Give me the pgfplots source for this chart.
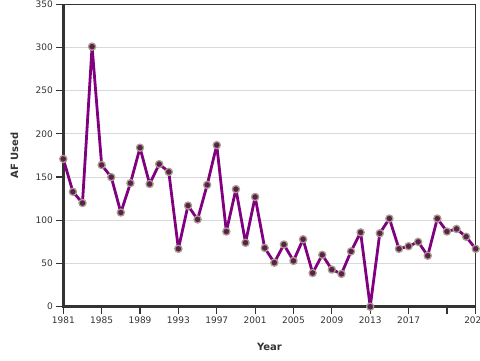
\documentclass[border=0pt]{standalone}
\usepackage{fontspec}
\setmainfont{DejaVu Sans}
\usepackage{pgfplots}
\pgfplotsset{compat=1.18}
\definecolor{txt}{HTML}{333333}
\definecolor{ln}{HTML}{800080}
\definecolor{mk}{HTML}{5C1F50}
\definecolor{mkedge}{HTML}{A89F88}
\definecolor{grd}{HTML}{D9D9D9}
\begin{document}
\begin{tikzpicture}
\begin{axis}[
  scale only axis,
  width=412.4pt, height=302.4pt,
  xmin=1981, xmax=2024, ymin=0, ymax=350,
  xtick={1981,1985,1989,1993,1997,2001,2005,2009,2013,2017,2021,2024},
  xticklabels={1981,1985,1989,1993,1997,2001,2005,2009,2013,2017,,2024},
  ytick={0,50,...,350},
  /pgf/number format/assume math mode=true,
  /pgf/number format/1000 sep={},
  tick label style={font=\fontsize{9}{10}\selectfont, text=txt},
  tick align=outside,
  major tick length=7pt,
  tick style={txt, line width=1.2pt},
  xtick pos=bottom, ytick pos=left,
  ymajorgrids,
  grid style={grd, line width=0.8pt},
  axis line style={txt, line width=1.2pt},
  xlabel={Year}, ylabel={AF Used},
  xlabel style={font=\fontsize{10}{12}\selectfont\bfseries, text=txt, at={(axis description cs:0.5,-0.133)}, anchor=center},
  ylabel style={font=\fontsize{10}{12}\selectfont\bfseries, text=txt, at={(axis description cs:-0.1188,0.5)}, anchor=center},
  clip=false,
]
\draw[txt, line width=2.6pt] (rel axis cs:0,1) -- (rel axis cs:0,0) -- (rel axis cs:1,0);
\addplot[ln, line width=2.8pt, line join=round, line cap=round, mark=*, mark size=3.6pt,
  mark options={fill=mk, draw=mkedge, line width=1.3pt}] coordinates {
(1981,171) (1982,133) (1983,120) (1984,301) (1985,164) (1986,150)
(1987,109) (1988,143) (1989,184) (1990,142) (1991,165) (1992,156)
(1993,67) (1994,117) (1995,101) (1996,141) (1997,187) (1998,87)
(1999,136) (2000,74) (2001,127) (2002,68) (2003,51) (2004,72)
(2005,53) (2006,78) (2007,39) (2008,60) (2009,43) (2010,38)
(2011,64) (2012,86) (2013,0) (2014,85) (2015,102) (2016,67)
(2017,70) (2018,75) (2019,59) (2020,102) (2021,87) (2022,90)
(2023,81) (2024,67)
};
\end{axis}
\pgfresetboundingbox
\path[use as bounding box] ([shift={(-63.3pt,-53.3pt)}]current axis.south west) rectangle ([shift={(4.3pt,4.3pt)}]current axis.north east);
\end{tikzpicture}
\end{document}
